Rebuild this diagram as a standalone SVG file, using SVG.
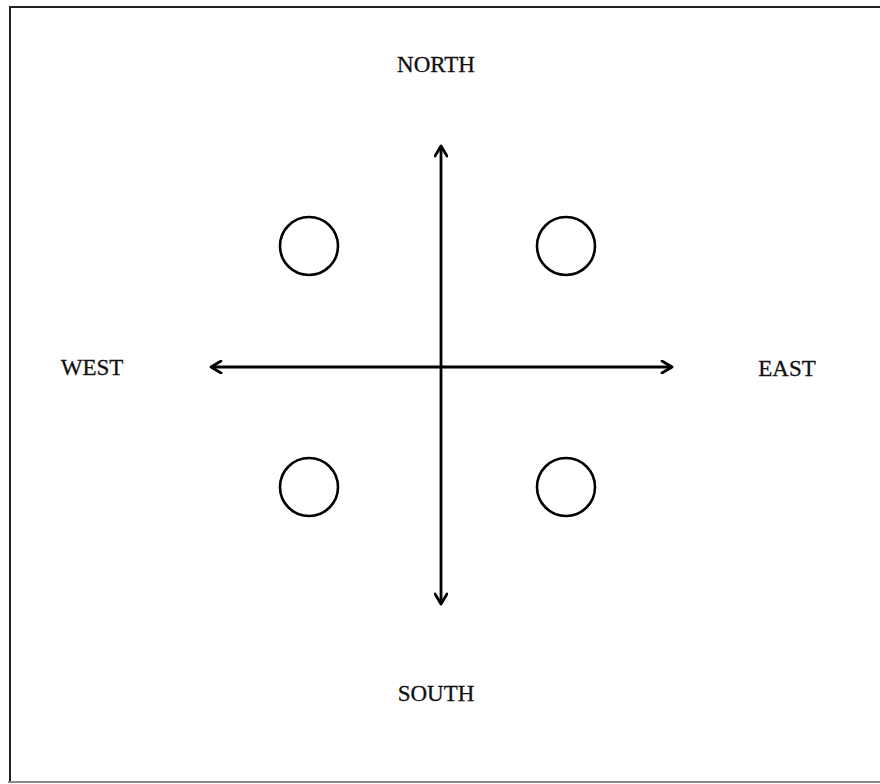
<svg xmlns="http://www.w3.org/2000/svg" width="880" height="784" viewBox="0 0 880 784">
<style>
.lbl{font-family:"Liberation Serif","Times New Roman",serif;font-size:23px;fill:#111;stroke:#111;stroke-width:0.3;text-anchor:middle}
.ax{stroke:#000;stroke-width:2.8;fill:none}
.c{stroke:#000;stroke-width:2.6;fill:#fff}
</style>
<defs>
<marker id="ah" viewBox="0 0 14 14" refX="12" refY="7" markerWidth="14" markerHeight="14" markerUnits="userSpaceOnUse" orient="auto-start-reverse">
<path d="M2,1 L12,7 L2,13" fill="none" stroke="#000" stroke-width="2.8" stroke-linecap="round" stroke-linejoin="round"/>
</marker>
</defs>
<rect width="880" height="784" fill="#fff"/>
<path d="M10,782 V7 H882" fill="none" stroke="#222" stroke-width="2"/>
<line x1="8" y1="782" x2="882" y2="782" stroke="#888" stroke-width="2"/>
<g id="connectors">
<line class="ax" x1="441" y1="146" x2="441" y2="604" marker-start="url(#ah)" marker-end="url(#ah)"/>
<line class="ax" x1="211" y1="367" x2="672" y2="367" marker-start="url(#ah)" marker-end="url(#ah)"/>
</g>
<g id="north"><text class="lbl" x="436" y="72">NORTH</text></g>
<g id="south"><text class="lbl" x="436" y="701">SOUTH</text></g>
<g id="west"><text class="lbl" x="92" y="375">WEST</text></g>
<g id="east"><text class="lbl" x="787" y="376">EAST</text></g>
<g id="circle-nw"><circle class="c" cx="309" cy="246" r="29"/></g>
<g id="circle-ne"><circle class="c" cx="566" cy="246" r="29"/></g>
<g id="circle-sw"><circle class="c" cx="309" cy="487" r="29"/></g>
<g id="circle-se"><circle class="c" cx="566" cy="487" r="29"/></g>
</svg>
